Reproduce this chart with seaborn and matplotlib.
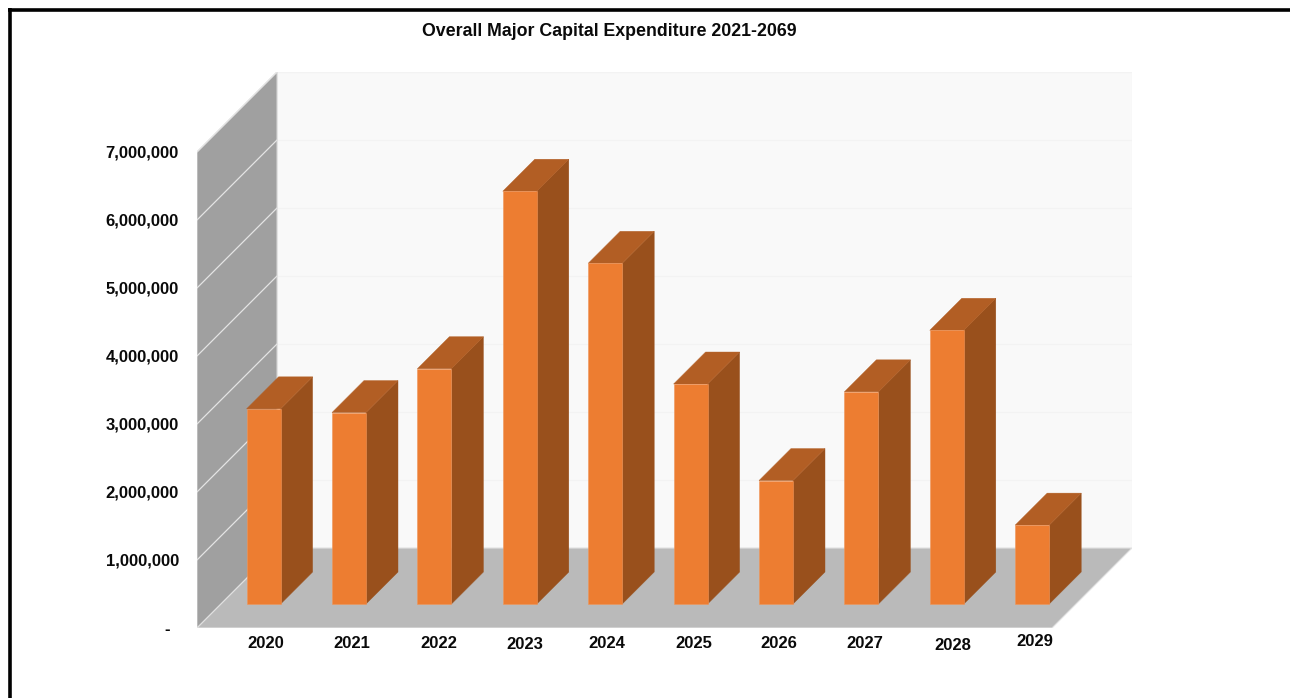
import matplotlib
matplotlib.use("Agg")
import matplotlib.pyplot as plt
from matplotlib.lines import Line2D
from matplotlib.patches import Polygon
from matplotlib.transforms import ScaledTranslation
import pandas as pd
import seaborn as sns

# ---- data ----
years = ["2020", "2021", "2022", "2023", "2024", "2025", "2026", "2027", "2028", "2029"]
capex = [2870000, 2815000, 3460000, 6070000, 5010000, 3235000, 1815000, 3120000, 4025000, 1160000]
y_ticks = [0, 1000000, 2000000, 3000000, 4000000, 5000000, 6000000, 7000000]
y_labels = ["-", "1,000,000", "2,000,000", "3,000,000", "4,000,000", "5,000,000", "6,000,000", "7,000,000"]
title = "Overall Major Capital Expenditure 2021-2069"

# ---- style ----
W, H = 1290, 698
BOX_L, BOX_R, BOX_T, BOX_B = 197, 1132, 72, 628
PX_PER_CAT = 85.4
PX_PER_UNIT = 68 / 1e6
FIRST_BAR_PX = 263.6
WALL_DEPTH = 80
BAR_DEPTH = 32
FLOOR_GAP = 24          # bars stand this far up the floor from the front edge
BAR_PX = 34
C_FRONT, C_TOP, C_SIDE = "#ed7d31", "#b25e24", "#99501c"
C_WALL, C_FLOOR, C_BACK = "#a0a0a0", "#bababa", "#f9f9f9"
# per-label nudges of the slightly jittered year labels (px)
nudge_x = [2, 2.5, 4.5, 5.5, 2, 3.5, 2.5, 3.5, 6, 2.5]
nudge_y = [0, 0, 0, -1, 0, 0, 0, 0, -2, 2.5]

sns.set_theme(style="white")
plt.rcParams["font.family"] = ["Liberation Sans", "DejaVu Sans"]

fig = plt.figure(figsize=(W / 100, H / 100), dpi=100, facecolor="white")
ax = fig.add_axes([BOX_L / W, 1 - BOX_B / H, (BOX_R - BOX_L) / W, (BOX_B - BOX_T) / H])
ax.patch.set_visible(False)

df = pd.DataFrame({"year": years, "capex": capex})
sns.barplot(data=df, x="year", y="capex", color=C_FRONT, saturation=1,
            width=BAR_PX / PX_PER_CAT, ax=ax, zorder=6, linewidth=0.4, edgecolor="#f0965a")

x0 = -(FIRST_BAR_PX - BOX_L) / PX_PER_CAT
x1 = (BOX_R - FIRST_BAR_PX) / PX_PER_CAT
y0 = -FLOOR_GAP / PX_PER_UNIT
y1 = (BOX_B - FLOOR_GAP - BOX_T) / PX_PER_UNIT
ax.set_xlim(x0, x1)
ax.set_ylim(y0, y1)

wdx, wdy = WALL_DEPTH / PX_PER_CAT, WALL_DEPTH / PX_PER_UNIT
bdx, bdy = BAR_DEPTH / PX_PER_CAT, BAR_DEPTH / PX_PER_UNIT

# back wall, left wall, floor
ax.add_patch(Polygon([(x0 + wdx, y0 + wdy), (x1, y0 + wdy), (x1, y1), (x0 + wdx, y1)],
                     fc=C_BACK, ec="#f4f4f4", lw=0.8, zorder=1))
ax.add_patch(Polygon([(x0, y0), (x0 + wdx, y0 + wdy), (x0 + wdx, y1), (x0, y1 - wdy)],
                     fc=C_WALL, ec="#d4d4d4", lw=0.8, zorder=2))
ax.add_patch(Polygon([(x0, y0), (x0 + wdx, y0 + wdy), (x1, y0 + wdy), (x1 - wdx, y0)],
                     fc=C_FLOOR, ec="#e2e2e2", lw=0.8, zorder=2))

# gridlines on walls, measured from the front-bottom corner of the box
for v in y_ticks[1:]:
    ax.plot([x0, x0 + wdx], [y0 + v, y0 + v + wdy], color="#e4e4e4", lw=0.9, zorder=3)
    ax.plot([x0 + wdx, x1], [y0 + v + wdy, y0 + v + wdy], color="#f3f3f3", lw=0.9, zorder=1.5)

# 3-D faces of each bar, derived from the bars seaborn drew
for bar in ax.patches:
    if bar.get_zorder() != 6:
        continue
    bx, bw, bh = bar.get_x(), bar.get_width(), bar.get_height()
    ax.add_patch(Polygon([(bx + bw, 0), (bx + bw + bdx, bdy), (bx + bw + bdx, bh + bdy), (bx + bw, bh)],
                         fc=C_SIDE, ec=C_SIDE, lw=0.3, zorder=5))
    ax.add_patch(Polygon([(bx, bh), (bx + bdx, bh + bdy), (bx + bw + bdx, bh + bdy), (bx + bw, bh)],
                         fc=C_TOP, ec=C_TOP, lw=0.3, zorder=5))

# real axis ticks
ax.set_xlabel("")
ax.set_ylabel("")
sns.despine(ax=ax, left=True, bottom=True)
ax.set_yticks([y0 + v for v in y_ticks], y_labels, fontsize=12, fontweight="bold", color="#0a0a0a")
ax.set_xticks(range(len(years)), years, fontsize=12, fontweight="bold", color="#0a0a0a")
ax.tick_params(axis="y", length=0, pad=13)
ax.tick_params(axis="x", length=0, pad=6)
for lab, nx, ny in zip(ax.get_xticklabels(), nudge_x, nudge_y):
    lab.set_transform(lab.get_transform() + ScaledTranslation(nx / 100, ny / 100, fig.dpi_scale_trans))
dash = ax.get_yticklabels()[0]
dash.set_transform(dash.get_transform() + ScaledTranslation(-9 / 100, 0, fig.dpi_scale_trans))

fig.text(609 / W, 1 - 32 / H, title, ha="center", va="center",
         fontsize=12.8, fontweight="bold", color="#0a0a0a")

# frame of the screenshot: top and left edges only
fig.add_artist(Line2D([10 / W, 10 / W], [0, 1 - 8 / H], color="black", lw=2.6, solid_capstyle="butt"))
fig.add_artist(Line2D([8 / W, 1], [1 - 9.5 / H, 1 - 9.5 / H], color="black", lw=2.6, solid_capstyle="butt"))

fig.savefig("out.png", dpi=100)
